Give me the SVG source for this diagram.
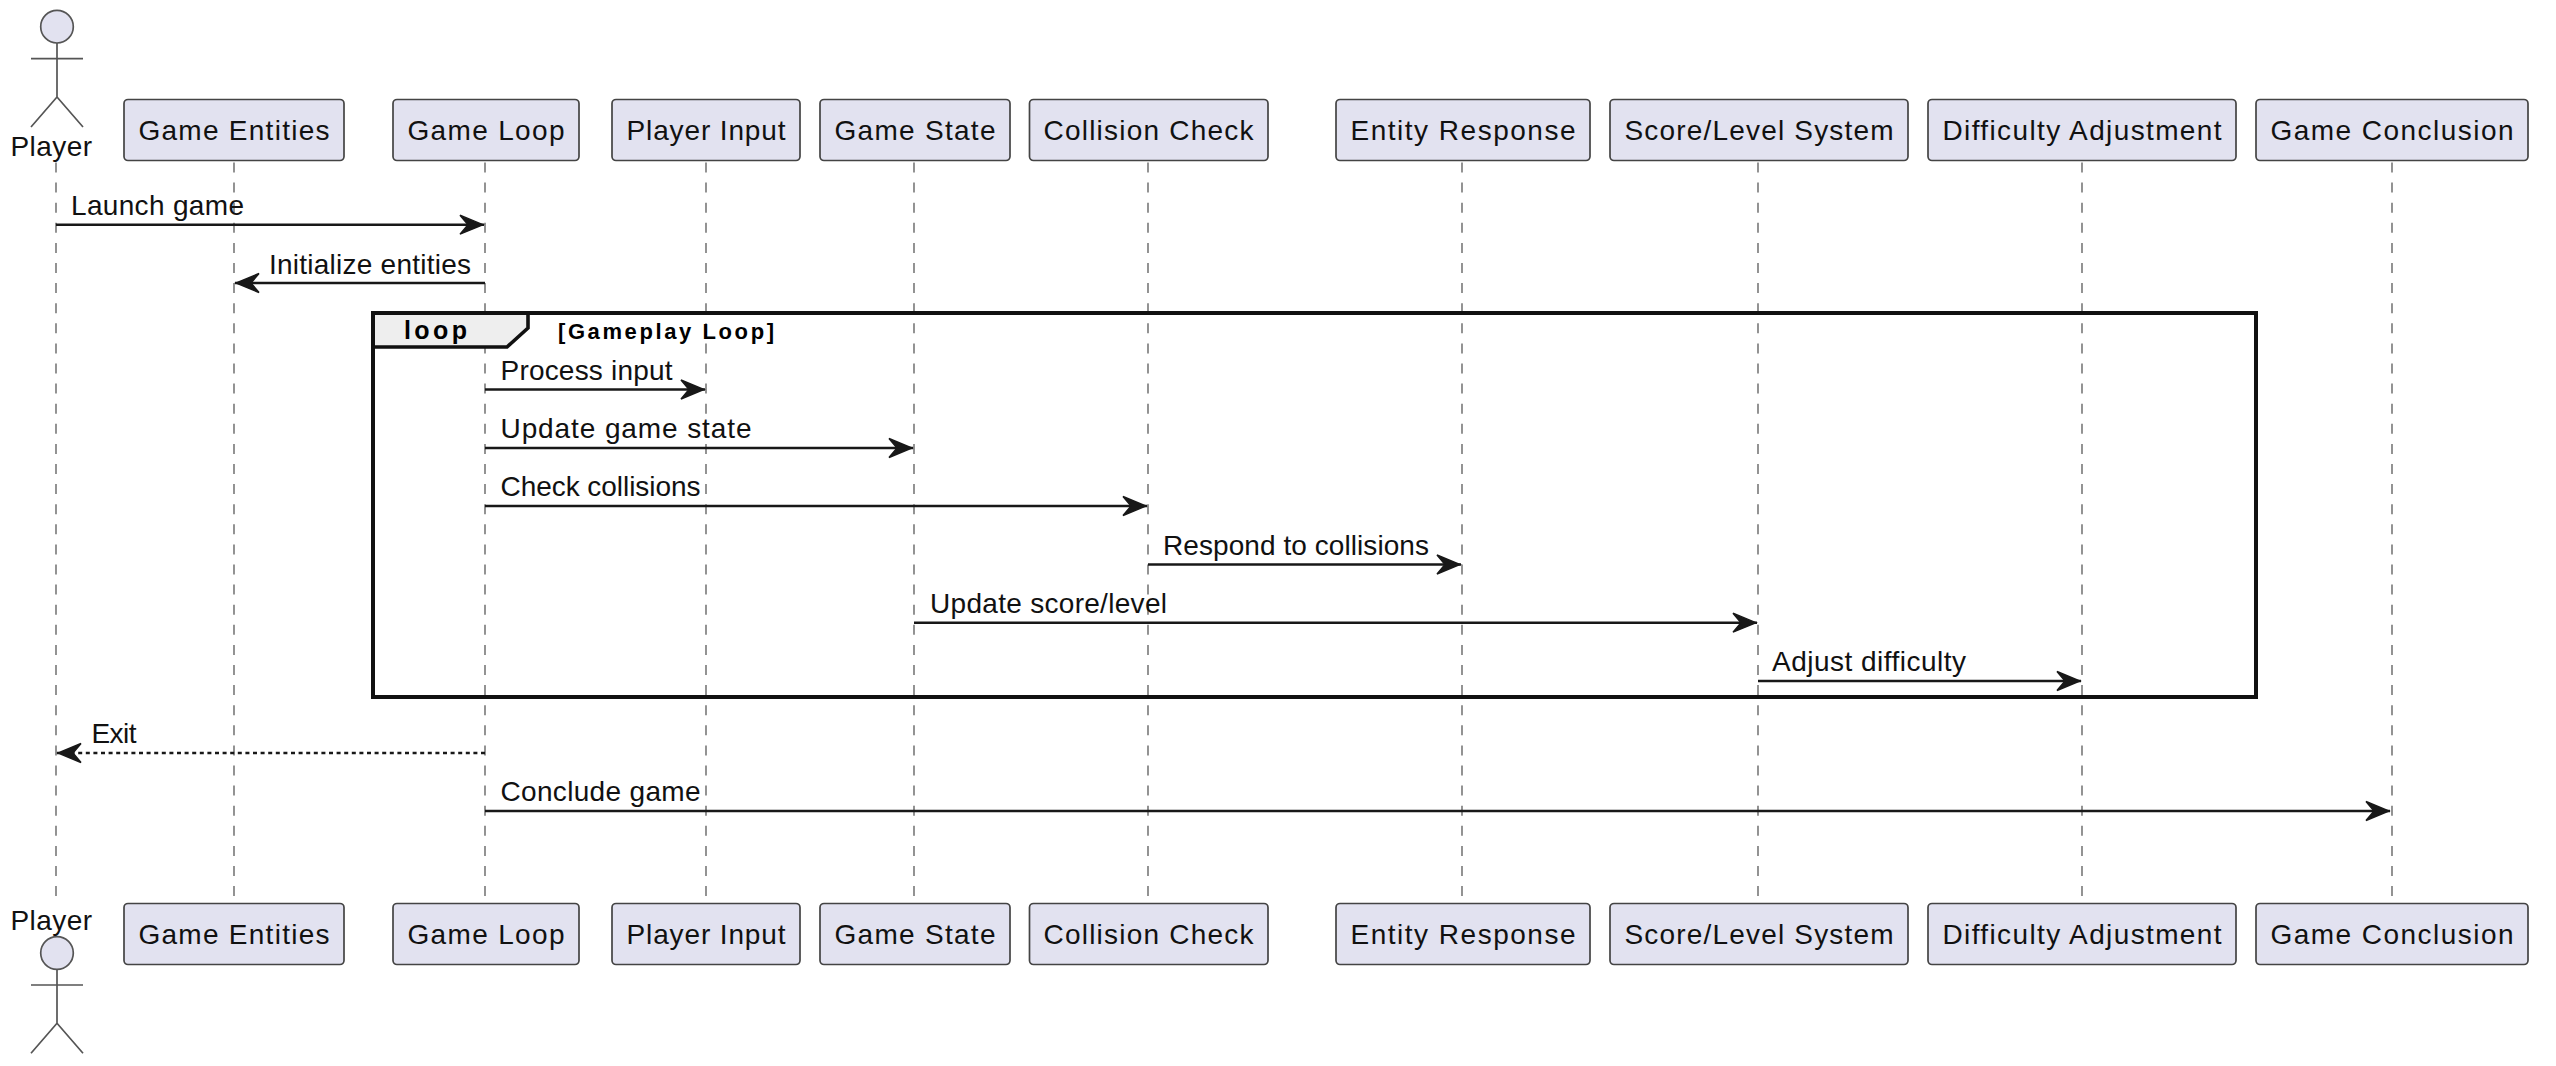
<svg xmlns="http://www.w3.org/2000/svg" width="2556" height="1066" viewBox="0 0 2556 1066">
<style>
text{font-family:"Liberation Sans",Arial,sans-serif;fill:#111;font-size:28px}
.box{fill:#E2E2F0;stroke:#444;stroke-width:1.7}
.lbl{text-anchor:middle}
.life{stroke:#808080;stroke-width:1.7;stroke-dasharray:10 10.1;fill:none}
.msg{stroke:#181818;stroke-width:2.6;fill:none;marker-end:url(#ah)}
.act{fill:none;stroke:#555;stroke-width:1.7}
.head{fill:#E2E2F0;stroke:#555;stroke-width:1.7}
text.b{font-weight:bold;font-size:22px;fill:#000}
text.t{font-weight:bold;font-size:25px;fill:#000}
</style>
<defs>
<marker id="ah" markerUnits="userSpaceOnUse" markerWidth="30" markerHeight="26" refX="25" refY="12" orient="auto"><path d="M1 2.5L24 12L1 21.5L9 12Z" fill="#181818" stroke="#181818" stroke-width="1.4"/></marker>
<g id="actor"><circle class="head" cx="57" cy="26.7" r="16.3"/><path class="act" d="M57 43V97M31 58.7H83M57 97L31 127M57 97L83 127"/></g>
</defs>
<rect width="2556" height="1066" fill="#fff"/>
<g id="lifelines">
<path class="life" d="M56 162.5V903"/><path class="life" d="M234 162.5V903"/><path class="life" d="M485 162.5V903"/><path class="life" d="M706 162.5V903"/><path class="life" d="M914 162.5V903"/><path class="life" d="M1148 162.5V903"/><path class="life" d="M1462 162.5V903"/><path class="life" d="M1758 162.5V903"/><path class="life" d="M2082 162.5V903"/><path class="life" d="M2392 162.5V903"/>
</g>
<g id="frame">
<path d="M373 347H507L528 328V313H373Z" fill="#EEE"/>
<rect x="373" y="313" width="1883" height="384" fill="none" stroke="#111" stroke-width="4"/>
<path d="M373 347H507L528 328V313" fill="none" stroke="#111" stroke-width="3.6"/>
<text class="t" x="404" y="339" textLength="63">loop</text>
<text class="b" x="558" y="338.5" textLength="216">[Gameplay Loop]</text>
</g>
<g id="connectors">
<line class="msg" x1="56" y1="224.7" x2="484" y2="224.7"/>
<line class="msg" x1="485" y1="283" x2="235" y2="283"/>
<line class="msg" x1="485" y1="389.5" x2="705" y2="389.5"/>
<line class="msg" x1="485" y1="448" x2="913" y2="448"/>
<line class="msg" x1="485" y1="506" x2="1147" y2="506"/>
<line class="msg" x1="1148" y1="564.5" x2="1461" y2="564.5"/>
<line class="msg" x1="914" y1="622.7" x2="1757" y2="622.7"/>
<line class="msg" x1="1758" y1="681" x2="2081" y2="681"/>
<line class="msg" x1="485" y1="753" x2="57" y2="753" stroke-dasharray="4 3.6"/>
<line class="msg" x1="485" y1="811" x2="2390" y2="811"/>
<text x="71" y="215" textLength="173">Launch game</text>
<text x="269" y="273.5" textLength="202">Initialize entities</text>
<text x="500.5" y="380" textLength="172">Process input</text>
<text x="500.5" y="438.2" textLength="251">Update game state</text>
<text x="500.5" y="496.2" textLength="200">Check collisions</text>
<text x="1163" y="554.7" textLength="266">Respond to collisions</text>
<text x="930" y="613" textLength="237">Update score/level</text>
<text x="1772" y="671.2" textLength="194">Adjust difficulty</text>
<text x="91.5" y="743.4" textLength="45">Exit</text>
<text x="500.5" y="801.4" textLength="200">Conclude game</text>
</g>
<g id="player-top"><use href="#actor"/><text x="10.5" y="155.5" textLength="81.5">Player</text></g>
<g id="player-bottom"><use href="#actor" y="926.3"/><text x="10.5" y="929.5" textLength="81.5">Player</text></g>
<g id="entities-top"><rect class="box" x="124" y="99.5" width="220" height="61" rx="4"/><text class="lbl" x="234" y="140" textLength="191">Game Entities</text></g>
<g id="loop-top"><rect class="box" x="393" y="99.5" width="186" height="61" rx="4"/><text class="lbl" x="486" y="140" textLength="157">Game Loop</text></g>
<g id="input-top"><rect class="box" x="612" y="99.5" width="188" height="61" rx="4"/><text class="lbl" x="706" y="140" textLength="159">Player Input</text></g>
<g id="state-top"><rect class="box" x="820" y="99.5" width="190" height="61" rx="4"/><text class="lbl" x="915" y="140" textLength="161">Game State</text></g>
<g id="collision-top"><rect class="box" x="1029.5" y="99.5" width="238.5" height="61" rx="4"/><text class="lbl" x="1148.5" y="140" textLength="210">Collision Check</text></g>
<g id="response-top"><rect class="box" x="1336" y="99.5" width="254" height="61" rx="4"/><text class="lbl" x="1463" y="140" textLength="225">Entity Response</text></g>
<g id="score-top"><rect class="box" x="1610" y="99.5" width="298" height="61" rx="4"/><text class="lbl" x="1759" y="140" textLength="269">Score/Level System</text></g>
<g id="difficulty-top"><rect class="box" x="1928" y="99.5" width="308" height="61" rx="4"/><text class="lbl" x="2082" y="140" textLength="279">Difficulty Adjustment</text></g>
<g id="conclusion-top"><rect class="box" x="2256" y="99.5" width="272" height="61" rx="4"/><text class="lbl" x="2392" y="140" textLength="243">Game Conclusion</text></g>
<g id="entities-bottom"><rect class="box" x="124" y="903.5" width="220" height="61" rx="4"/><text class="lbl" x="234" y="944" textLength="191">Game Entities</text></g>
<g id="loop-bottom"><rect class="box" x="393" y="903.5" width="186" height="61" rx="4"/><text class="lbl" x="486" y="944" textLength="157">Game Loop</text></g>
<g id="input-bottom"><rect class="box" x="612" y="903.5" width="188" height="61" rx="4"/><text class="lbl" x="706" y="944" textLength="159">Player Input</text></g>
<g id="state-bottom"><rect class="box" x="820" y="903.5" width="190" height="61" rx="4"/><text class="lbl" x="915" y="944" textLength="161">Game State</text></g>
<g id="collision-bottom"><rect class="box" x="1029.5" y="903.5" width="238.5" height="61" rx="4"/><text class="lbl" x="1148.5" y="944" textLength="210">Collision Check</text></g>
<g id="response-bottom"><rect class="box" x="1336" y="903.5" width="254" height="61" rx="4"/><text class="lbl" x="1463" y="944" textLength="225">Entity Response</text></g>
<g id="score-bottom"><rect class="box" x="1610" y="903.5" width="298" height="61" rx="4"/><text class="lbl" x="1759" y="944" textLength="269">Score/Level System</text></g>
<g id="difficulty-bottom"><rect class="box" x="1928" y="903.5" width="308" height="61" rx="4"/><text class="lbl" x="2082" y="944" textLength="279">Difficulty Adjustment</text></g>
<g id="conclusion-bottom"><rect class="box" x="2256" y="903.5" width="272" height="61" rx="4"/><text class="lbl" x="2392" y="944" textLength="243">Game Conclusion</text></g>
</svg>
